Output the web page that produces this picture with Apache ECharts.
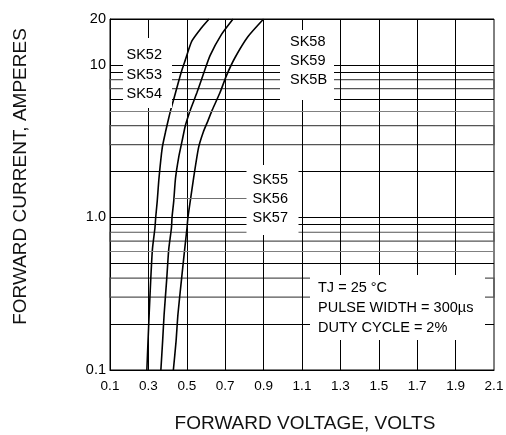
<!DOCTYPE html>
<html>
<head>
<meta charset="utf-8">
<script src="https://cdn.jsdelivr.net/npm/echarts@6/dist/echarts.min.js"></script>
<style>
html,body{margin:0;padding:0;background:#fff;}
#chart{width:506px;height:435px;}
</style>
</head>
<body>
<div id="chart"></div>
<script>
// ---- data ----
const vfSK52_54 = [0.292, 0.298, 0.304, 0.312, 0.321, 0.334, 0.338, 0.346, 0.355, 0.372, 0.389, 0.406, 0.418, 0.432, 0.454, 0.475, 0.492, 0.526, 0.578, 0.616];
const ifSK52_54 = [0.1, 0.154, 0.233, 0.388, 0.62, 0.853, 1.0, 1.28, 1.8, 2.86, 3.63, 4.49, 5.17, 5.96, 7.53, 9.31, 10.75, 14.3, 17.6, 20];

const vfSK55_57 = [0.365, 0.374, 0.382, 0.395, 0.406, 0.420, 0.423, 0.432, 0.441, 0.458, 0.475, 0.492, 0.518, 0.552, 0.586, 0.621, 0.680, 0.741];
const ifSK55_57 = [0.1, 0.154, 0.233, 0.388, 0.62, 0.853, 1.0, 1.28, 1.8, 2.49, 3.15, 3.98, 5.05, 6.54, 8.68, 11.5, 15.8, 20];

const vfSK58_5B = [0.430, 0.444, 0.454, 0.472, 0.489, 0.501, 0.506, 0.518, 0.535, 0.561, 0.586, 0.610, 0.632, 0.672, 0.706, 0.750, 0.818, 0.900];
const ifSK58_5B = [0.1, 0.154, 0.233, 0.388, 0.62, 0.853, 1.0, 1.28, 1.8, 2.86, 3.63, 4.3, 5.05, 6.54, 8.48, 11.1, 15.3, 20];

const xMin = 0.1, xMax = 2.1;
const yMin = 0.1, yMax = 20;
const xGridLines = [0.3, 0.5, 0.7, 0.9, 1.1, 1.3, 1.5, 1.7, 1.9];
const yGridBlack = [0.2, 0.5, 0.9, 2, 6, 9];
const yGridGrey = [0.6, 5];
const yGridBands = [[0.3, 0.4], [0.7, 0.8], [3, 4], [7, 8]];
const leaderSK56 = [[0.434, 1.34], [0.85, 1.34]];

const labelsGroupA = ['SK52', 'SK53', 'SK54'];
const labelsGroupB = ['SK55', 'SK56', 'SK57'];
const labelsGroupC = ['SK58', 'SK59', 'SK5B'];
const conditionLines = ['TJ = 25 \u00B0C', 'PULSE WIDTH = 300\u00B5s', 'DUTY CYCLE = 2%'];
const xTitle = 'FORWARD VOLTAGE, VOLTS';
const yTitle = 'FORWARD CURRENT, AMPERES';

// ---- build ----
const FONT = "'Liberation Sans', Arial, Helvetica, sans-serif";
const zip = (xs, ys) => xs.map((x, i) => [x, ys[i]]);

function labelBox(x, y, w, h, tx, ty0, dy, lines, size) {
  const els = [{
    type: 'rect', z: 100,
    shape: { x: x, y: y, width: w, height: h },
    style: { fill: '#fff', stroke: null }
  }];
  lines.forEach((t, i) => {
    els.push({
      type: 'text', z: 101, x: tx, y: ty0 + i * dy,
      style: { text: t, fill: '#000', font: size + 'px ' + FONT, align: 'left', verticalAlign: 'middle' }
    });
  });
  return els;
}

const gridLineStyle = { color: '#000', width: 1, type: 'solid' };

const curveBase = {
  type: 'line', showSymbol: false, smooth: 0.2, silent: true,
  lineStyle: { color: '#000', width: 1.6 }, z: 3
};

const option = {
  animation: false,
  backgroundColor: '#fff',
  grid: {
    left: 110, right: 12, top: 19, bottom: 65,
    show: true, borderColor: '#000', borderWidth: 1, backgroundColor: 'transparent',
    containLabel: false, outerBoundsMode: 'none'
  },
  xAxis: {
    type: 'value', min: xMin, max: xMax, interval: 0.1,
    axisLine: { show: true, lineStyle: { color: '#000', width: 1 } },
    axisTick: { show: false },
    splitLine: { show: false },
    axisLabel: {
      color: '#000', fontFamily: FONT, fontSize: 13.5, margin: 9,
      formatter: v => (Math.round(v * 10) % 2 === 1 ? (Math.round(v * 10) / 10).toFixed(1) : '')
    }
  },
  yAxis: {
    type: 'log', logBase: 10, min: yMin, max: yMax,
    axisLine: { show: true, lineStyle: { color: '#000', width: 1 } },
    axisTick: { show: false },
    splitLine: { show: true, lineStyle: gridLineStyle },
    axisLabel: {
      color: '#000', fontFamily: FONT, fontSize: 14.5, margin: 4, padding: [7, 0, 0, 0],
      formatter: v => (Math.abs(v - 1) < 1e-9 ? '1.0' : String(+Number(v).toPrecision(3)))
    }
  },
  series: [
    Object.assign({}, curveBase, {
      name: 'SK52-SK54',
      data: zip(vfSK52_54, ifSK52_54),
      markLine: {
        silent: true, symbol: ['none', 'none'], label: { show: false }, animation: false,
        lineStyle: gridLineStyle,
        data: xGridLines.map(v => ({ xAxis: v }))
          .concat(yGridBlack.map(v => ({ yAxis: v })))
          .concat(yGridGrey.map(v => ({ yAxis: v, lineStyle: { color: '#808080', width: 1, type: 'solid' } })))
          .concat([[
            { coord: leaderSK56[0], lineStyle: { color: '#707070', width: 1, type: 'solid' } },
            { coord: leaderSK56[1] }
          ]])
      },
      markArea: {
        silent: true, label: { show: false },
        itemStyle: { color: 'rgba(0,0,0,0)', borderColor: '#555', borderWidth: 1.2 },
        data: yGridBands.map(b => [{ yAxis: b[0] }, { yAxis: b[1] }])
      }
    }),
    Object.assign({}, curveBase, { name: 'SK55-SK57', data: zip(vfSK55_57, ifSK55_57) }),
    Object.assign({}, curveBase, { name: 'SK58-SK5B', data: zip(vfSK58_5B, ifSK58_5B) })
  ],
  graphic: {
    elements: []
      .concat(labelBox(123, 38, 49, 70, 126.5, 55, 19.7, labelsGroupA, 14.5))
      .concat(labelBox(246.5, 165, 52, 70, 252.5, 180, 19, labelsGroupB, 14.5))
      .concat(labelBox(280, 30, 54, 70, 290, 41.7, 19.2, labelsGroupC, 14.5))
      .concat(labelBox(310, 275, 175, 65, 318, 287.7, 20, conditionLines, 14.5))
      .concat([
        {
          type: 'text', z: 101, x: 305, y: 424,
          style: { text: xTitle, fill: '#111', font: '19px ' + FONT, align: 'center', verticalAlign: 'middle' }
        },
        {
          type: 'text', z: 101, x: 21, y: 176.5, rotation: Math.PI / 2,
          style: { text: yTitle, fill: '#111', font: '19px ' + FONT, align: 'center', verticalAlign: 'middle' }
        }
      ])
  }
};

const chart = echarts.init(document.getElementById('chart'), null, { renderer: 'canvas' });
chart.setOption(option);
</script>
</body>
</html>
